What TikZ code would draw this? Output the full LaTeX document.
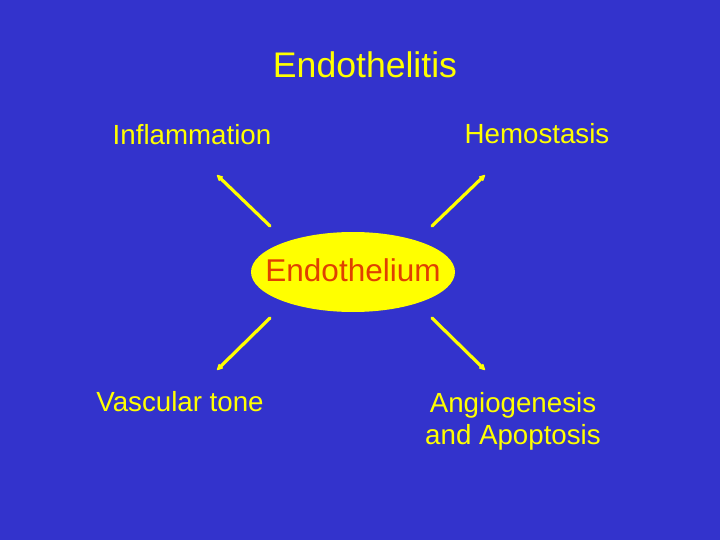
\documentclass[tikz,border=0pt]{standalone}
\usepackage{fontspec}
\setmainfont{Liberation Sans}
\usetikzlibrary{arrows.meta,shapes.geometric}
\definecolor{bg}{HTML}{3333CC}
\definecolor{ylw}{HTML}{FFFF00}
\definecolor{redtxt}{HTML}{E04000}
\begin{document}
\begin{tikzpicture}[x=1pt,y=-1pt,
  lbl/.style={text=ylw,font=\fontsize{27.7}{32}\selectfont,anchor=base,inner sep=0pt,align=center},
  conn/.style={draw=ylw,line width=3.2pt,line cap=round,-{Stealth[length=8pt,width=8pt,round]}}]
\fill[bg] (0,0) rectangle (720,540);
\useasboundingbox (0,0) rectangle (720,540);
\node[text=ylw,font=\fontsize{35.6}{40}\selectfont,anchor=base,inner sep=0pt] (title) at (365,78) {Endothelitis};
\node[lbl] (infl) at (192,145) {Inflammation};
\node[lbl] (hemo) at (537,144) {Hemostasis};
\node[lbl] (vasc) at (180,411) {Vascular tone};
\node[lbl,anchor=north] (angio) at (513,392) {Angiogenesis\\and Apoptosis};
\node[ellipse,fill=ylw,minimum width=204pt,minimum height=80pt,inner sep=0pt] (endo) at (353,272) {};
\node[text=redtxt,font=\fontsize{31.5}{36}\selectfont,anchor=base,inner sep=0pt] (endotxt) at (353,281) {Endothelium};
\coordinate (a1s) at (270,226); \coordinate (a1e) at (217,175);
\coordinate (a2s) at (432,226); \coordinate (a2e) at (485,175);
\coordinate (a3s) at (270,318); \coordinate (a3e) at (217,370);
\coordinate (a4s) at (432,318); \coordinate (a4e) at (485,370);
\draw[conn] (a1s) -- (a1e);
\draw[conn] (a2s) -- (a2e);
\draw[conn] (a3s) -- (a3e);
\draw[conn] (a4s) -- (a4e);
\end{tikzpicture}
\end{document}
